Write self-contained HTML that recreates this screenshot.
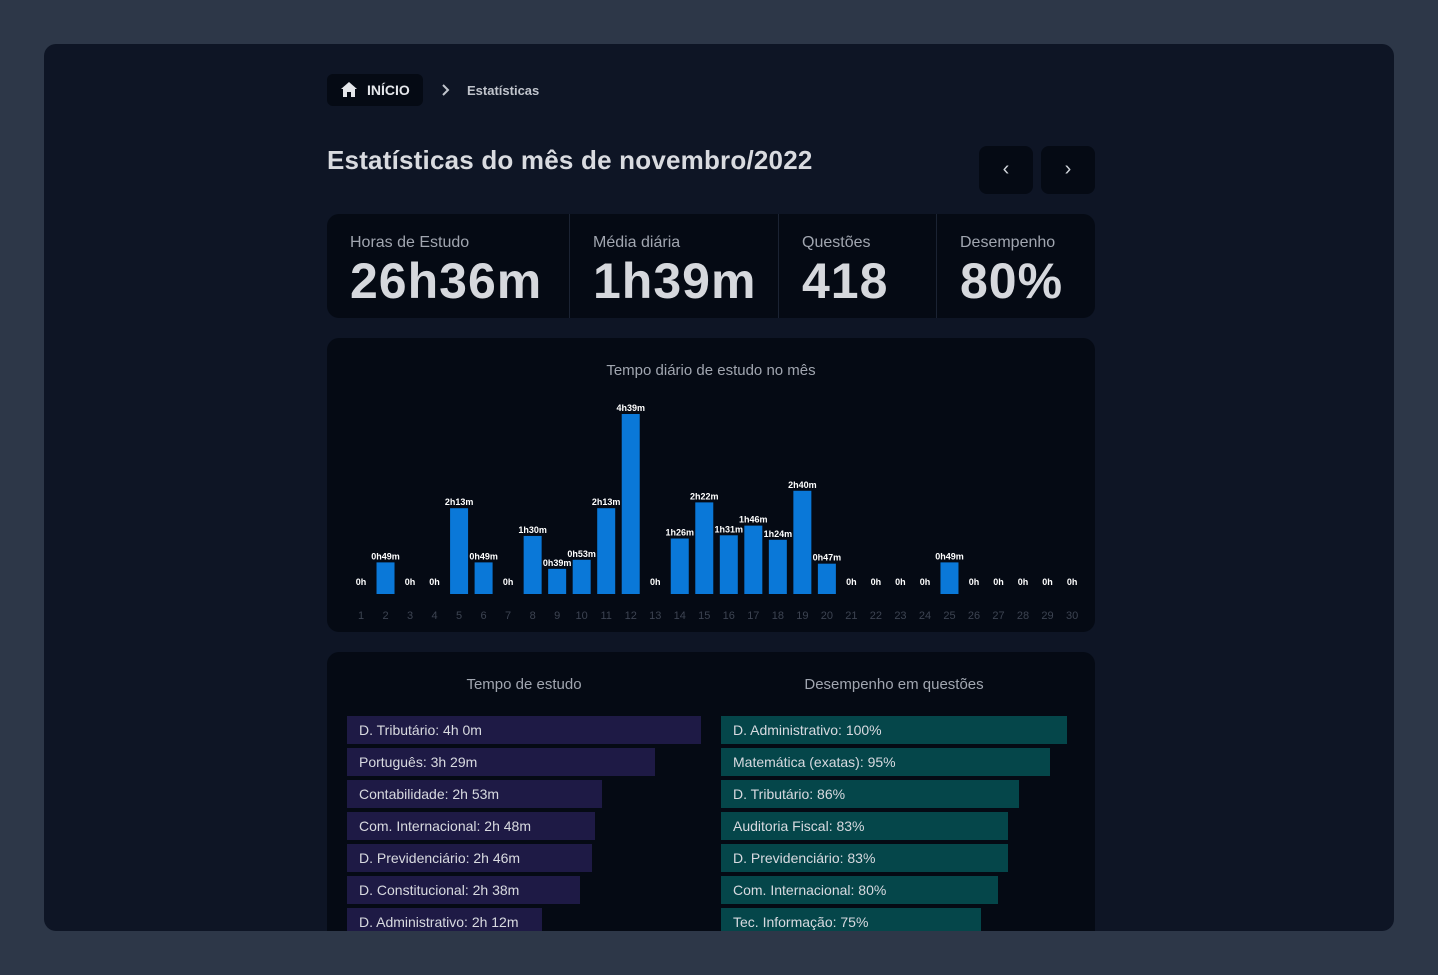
<!DOCTYPE html>
<html><head><meta charset="utf-8">
<style>
*{box-sizing:border-box;margin:0;padding:0}
body{width:1438px;height:975px;background:#2d3748;font-family:"Liberation Sans",sans-serif;overflow:hidden;position:relative}
.card{position:absolute;left:44px;top:44px;width:1350px;height:887px;background:#0e1525;border-radius:12px;overflow:hidden}
.abs{position:absolute}
.crumb{left:283px;top:30px;width:96px;height:32px;background:#050a14;border-radius:6px;color:#e5e7eb;font-weight:bold;font-size:14px;line-height:32px;padding-left:40px}
.title{left:283px;top:101px;color:#d9dbe0;font-weight:bold;font-size:26px;letter-spacing:0.2px}
.nav{top:102px;width:54px;height:48px;background:#050a14;border-radius:8px;color:#d1d5db;text-align:center;line-height:46px;font-size:20px}
.stats{left:283px;top:170px;width:768px;height:104px;background:#050a14;border-radius:12px;display:flex}
.stat{border-right:1px solid #1b2333;padding:20px 0 0 23px}
.stat:last-child{border-right:none}
.stat .l{color:#a1a6b0;font-size:16px}
.stat .v{color:#d6d8dd;font-weight:bold;font-size:50px;margin-top:0px;letter-spacing:1px}
.panel{background:#050a14;border-radius:12px}
.row{position:absolute;height:28px;color:#d8dae0;font-size:14px;line-height:28px;padding-left:12px;white-space:nowrap}
</style></head><body>
<div class="card">
 <div class="abs crumb"><svg class="abs" style="left:14px;top:8px" width="16" height="15" viewBox="0 0 16 15"><path d="M8 0L0 7h2v8h4v-5h4v5h4V7h2z" fill="#e5e7eb"/></svg>INÍCIO</div>
 <svg class="abs" style="left:398px;top:40px" width="8" height="12"><path d="M1 1l5 5-5 5" stroke="#c0c4cc" stroke-width="2" fill="none"/></svg>
 <div class="abs" style="left:423px;top:39px;color:#c0c4cc;font-size:13px;font-weight:bold">Estatísticas</div>
 <div class="abs title">Estatísticas do mês de novembro/2022</div>
 <div class="abs nav" style="left:935px">‹</div>
 <div class="abs nav" style="left:997px">›</div>
 <div class="abs stats">
  <div class="stat" style="width:243px"><div class="l">Horas de Estudo</div><div class="v">26h36m</div></div>
  <div class="stat" style="width:209px"><div class="l">Média diária</div><div class="v">1h39m</div></div>
  <div class="stat" style="width:158px"><div class="l">Questões</div><div class="v">418</div></div>
  <div class="stat" style="width:158px"><div class="l">Desempenho</div><div class="v">80%</div></div>
 </div>
 <div class="abs panel" style="left:283px;top:294px;width:768px;height:294px">
  <div class="abs" style="left:0;width:768px;top:24px;text-align:center;color:#a1a6b0;font-size:15px">Tempo diário de estudo no mês</div>
  <svg id="chart" class="abs" style="left:0;top:0" width="768" height="294"></svg>
 </div>
 <div class="abs panel" style="left:283px;top:608px;width:768px;height:300px">
  <div class="abs" style="left:20px;width:354px;top:24px;text-align:center;color:#a1a6b0;font-size:15px">Tempo de estudo</div>
  <div class="abs" style="left:394px;width:346px;top:24px;text-align:center;color:#a1a6b0;font-size:15px">Desempenho em questões</div>
  <div id="lists"></div>
 </div>
</div>
<script>
const days=[1,2,3,4,5,6,7,8,9,10,11,12,13,14,15,16,17,18,19,20,21,22,23,24,25,26,27,28,29,30];
const minutes=[0,49,0,0,133,49,0,90,39,53,133,279,0,86,142,91,106,84,160,47,0,0,0,0,49,0,0,0,0,0];
const studySubjects=["D. Tributário","Português","Contabilidade","Com. Internacional","D. Previdenciário","D. Constitucional","D. Administrativo"];
const studyMinutes=[240,209,173,168,166,158,132];
const perfSubjects=["D. Administrativo","Matemática (exatas)","D. Tributário","Auditoria Fiscal","D. Previdenciário","Com. Internacional","Tec. Informação"];
const perfValues=[100,95,86,83,83,80,75];

const NS="http://www.w3.org/2000/svg";
const svg=document.getElementById('chart');
const base=256, x0=34, step=24.52, maxMin=279, maxH=180;
const xs=i=>x0+i*step, ys=v=>base-v/maxMin*maxH;
const fmt=m=>m===0?"0h":Math.floor(m/60)+"h"+String(m%60).padStart(2,"0")+"m";
days.forEach((d,i)=>{
  const v=minutes[i];
  if(v>0){
    const r=document.createElementNS(NS,'rect');
    
    
    r.setAttribute('x',xs(i)-9);r.setAttribute('y',ys(v));r.setAttribute('width',18);r.setAttribute('height',base-ys(v));
    r.setAttribute('fill','#0a78d8');svg.appendChild(r);
  }
  const t=document.createElementNS(NS,'text');
  
  
  t.setAttribute('x',xs(i));t.setAttribute('y',v>0?ys(v)-3:base-9);
  t.setAttribute('text-anchor','middle');t.setAttribute('fill','#fff');t.setAttribute('font-size','9');t.setAttribute('font-weight','bold');
  t.textContent=fmt(v);svg.appendChild(t);
  const a=document.createElementNS(NS,'text');
  
  
  a.setAttribute('x',xs(i));a.setAttribute('y',281);a.setAttribute('text-anchor','middle');a.setAttribute('fill','#3d4452');a.setAttribute('font-size','11');
  a.textContent=d;svg.appendChild(a);
});
const lists=document.getElementById('lists');
const maxS=Math.max(...studyMinutes);
studySubjects.forEach((s,i)=>{
  const m=studyMinutes[i];
  const el=document.createElement('div');
  
  
  el.className='row';el.style.left='20px';el.style.top=(64+i*32)+'px';el.style.width=(354*m/maxS)+'px';el.style.background='#1e1a45';
  el.textContent=s+": "+Math.floor(m/60)+"h "+(m%60)+"m";lists.appendChild(el);
});
perfSubjects.forEach((s,i)=>{
  const p=perfValues[i];
  const el=document.createElement('div');
  
  
  el.className='row';el.style.left='394px';el.style.top=(64+i*32)+'px';el.style.width=(346*p/100)+'px';el.style.background='#05464a';
  el.textContent=s+": "+p+"%";lists.appendChild(el);
});
</script>
</body></html>
